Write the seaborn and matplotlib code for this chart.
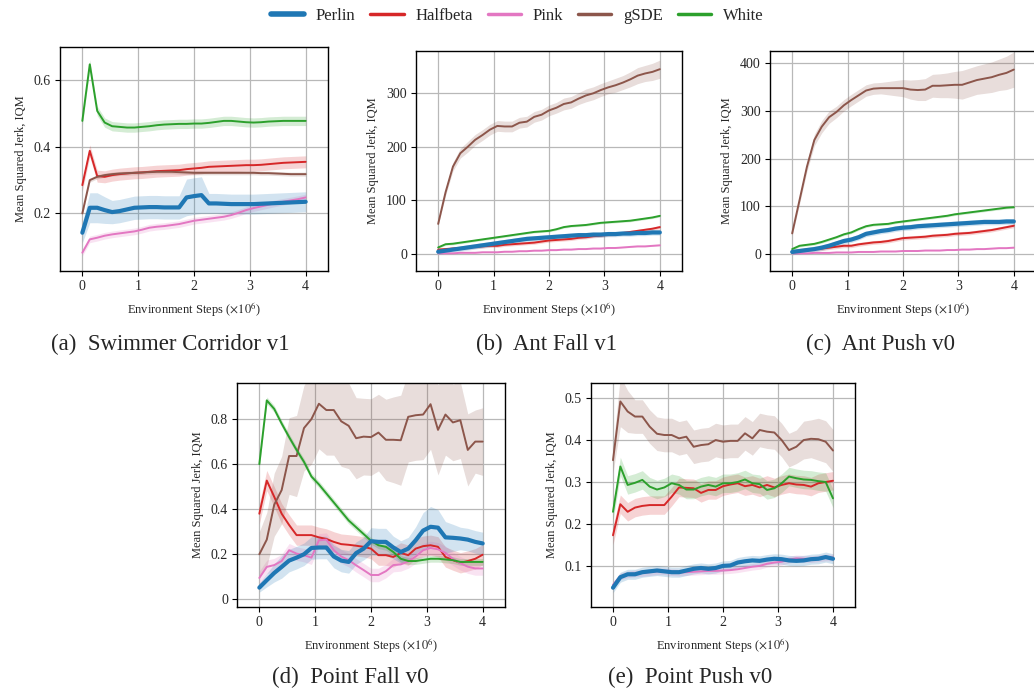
import numpy as np
import pandas as pd
import matplotlib
matplotlib.use("Agg")
import matplotlib.pyplot as plt
from matplotlib.ticker import FuncFormatter
from matplotlib.lines import Line2D
import seaborn as sns

# ---------------------------------------------------------------- data
steps = np.linspace(0, 4, 31)  # environment steps (x 1e6)

methods = ["Perlin", "Halfbeta", "Pink", "gSDE", "White"]
colors = {"Perlin": "#1f77b4", "Halfbeta": "#d62728", "Pink": "#e377c2",
          "gSDE": "#8c564b", "White": "#2ca02c"}

# Swimmer Corridor v1
swim_perlin = [0.142, 0.217, 0.217, 0.210, 0.204, 0.207, 0.212, 0.217, 0.218, 0.219, 0.219,
               0.218, 0.218, 0.218, 0.248, 0.252, 0.255, 0.230, 0.230, 0.229, 0.228, 0.228,
               0.228, 0.228, 0.229, 0.230, 0.231, 0.232, 0.233, 0.234, 0.235]
swim_halfbeta = [0.285, 0.388, 0.312, 0.310, 0.315, 0.318, 0.320, 0.322, 0.323, 0.325, 0.327,
                 0.328, 0.329, 0.330, 0.333, 0.335, 0.337, 0.340, 0.341, 0.342, 0.343, 0.344,
                 0.345, 0.345, 0.346, 0.348, 0.350, 0.352, 0.353, 0.354, 0.355]
swim_pink = [0.082, 0.122, 0.127, 0.133, 0.137, 0.140, 0.143, 0.146, 0.151, 0.157, 0.160,
             0.162, 0.165, 0.168, 0.173, 0.178, 0.181, 0.184, 0.187, 0.190, 0.195, 0.202,
             0.210, 0.216, 0.221, 0.226, 0.231, 0.235, 0.239, 0.243, 0.248]
swim_gsde = [0.200, 0.300, 0.310, 0.315, 0.318, 0.320, 0.321, 0.322, 0.323, 0.324, 0.325,
             0.325, 0.325, 0.324, 0.323, 0.322, 0.322, 0.322, 0.322, 0.322, 0.322, 0.322,
             0.322, 0.322, 0.321, 0.321, 0.320, 0.319, 0.318, 0.318, 0.318]
swim_white = [0.478, 0.648, 0.508, 0.473, 0.462, 0.460, 0.458, 0.458, 0.460, 0.462, 0.465,
              0.467, 0.468, 0.469, 0.469, 0.470, 0.470, 0.472, 0.475, 0.478, 0.478, 0.476,
              0.474, 0.473, 0.474, 0.476, 0.477, 0.478, 0.478, 0.478, 0.478]
swim_perlin_ci = [0.03, 0.045, 0.045, 0.04, 0.035, 0.035, 0.035, 0.035, 0.035, 0.035, 0.035,
                  0.035, 0.035, 0.035, 0.055, 0.055, 0.055, 0.03, 0.03, 0.03, 0.03, 0.03,
                  0.03, 0.03, 0.03, 0.03, 0.03, 0.03, 0.03, 0.03, 0.03]

# Ant Fall v1
fall_perlin = [4, 6, 8, 10, 12, 14, 16, 18, 20, 22, 24, 26, 28, 29, 30, 31, 32, 33, 34, 35,
               35, 36, 36, 37, 37, 38, 38, 39, 39, 40, 40]
fall_halfbeta = [8, 9, 10, 11, 12, 13, 14, 15, 15, 17, 18, 19, 20, 21, 23, 25, 26, 27, 28, 30,
                 31, 33, 34, 36, 37, 39, 41, 43, 45, 47, 50]
fall_pink = [1, 1, 1, 2, 2, 2, 3, 3, 3, 4, 4, 5, 5, 6, 6, 7, 7, 8, 8, 9, 9, 10, 10, 11, 11,
             12, 13, 14, 14, 15, 16]
fall_gsde = [56, 115, 163, 188, 200, 213, 222, 232, 239, 238, 238, 245, 247, 256, 260, 268,
             273, 280, 283, 290, 296, 300, 306, 311, 315, 320, 326, 333, 337, 340, 345]
fall_white = [12, 18, 19, 21, 23, 25, 27, 29, 31, 33, 35, 37, 39, 41, 42, 43, 46, 50, 52, 53,
              54, 56, 58, 59, 60, 61, 62, 64, 66, 68, 71]
fall_gsde_ci = [3, 6, 8, 9, 10, 10, 10, 10, 10, 10, 10, 10, 10, 10, 10, 10, 10, 11, 11, 11,
                12, 12, 12, 12, 13, 13, 14, 15, 15, 16, 17]

# Ant Push v0
push_perlin = [4, 6, 8, 10, 13, 17, 22, 27, 30, 35, 42, 45, 48, 50, 53, 55, 56, 58, 59, 60,
               61, 62, 63, 64, 65, 66, 67, 67, 67, 68, 68]
push_halfbeta = [5, 7, 9, 10, 11, 13, 15, 17, 17, 20, 22, 24, 25, 27, 30, 33, 34, 35, 36, 38,
                 39, 40, 42, 43, 44, 46, 48, 50, 53, 56, 59]
push_pink = [1, 1, 1, 2, 2, 2, 3, 3, 3, 4, 4, 4, 5, 5, 5, 6, 6, 6, 7, 7, 7, 8, 8, 9, 9, 10,
             10, 11, 12, 12, 13]
push_gsde = [43, 113, 183, 239, 267, 287, 298, 312, 323, 333, 343, 347, 348, 348, 348, 348,
             345, 344, 345, 353, 353, 354, 355, 355, 360, 365, 368, 371, 376, 380, 387]
push_white = [10, 17, 19, 21, 25, 30, 35, 41, 45, 52, 58, 61, 62, 63, 66, 68, 70, 72, 74, 76,
              78, 80, 83, 85, 87, 89, 91, 93, 95, 97, 98]
push_gsde_ci = [5, 8, 10, 12, 13, 13, 12, 12, 12, 12, 12, 12, 12, 14, 16, 18, 20, 22, 23, 24,
                25, 26, 28, 30, 30, 30, 31, 32, 33, 35, 37]

# Point Fall v0
pfall_perlin = [0.052, 0.085, 0.117, 0.144, 0.172, 0.185, 0.200, 0.228, 0.230, 0.230, 0.190,
                0.172, 0.166, 0.205, 0.225, 0.258, 0.255, 0.255, 0.230, 0.210, 0.225, 0.262,
                0.305, 0.322, 0.318, 0.275, 0.273, 0.270, 0.265, 0.255, 0.248]
pfall_halfbeta = [0.380, 0.527, 0.455, 0.380, 0.330, 0.285, 0.285, 0.285, 0.275, 0.268, 0.255,
                  0.245, 0.242, 0.238, 0.233, 0.225, 0.196, 0.196, 0.188, 0.206, 0.196, 0.225,
                  0.236, 0.240, 0.233, 0.188, 0.174, 0.162, 0.170, 0.180, 0.198]
pfall_pink = [0.095, 0.144, 0.152, 0.170, 0.218, 0.203, 0.196, 0.185, 0.262, 0.265, 0.218,
              0.190, 0.174, 0.151, 0.130, 0.108, 0.108, 0.125, 0.152, 0.155, 0.168, 0.190,
              0.218, 0.228, 0.222, 0.206, 0.180, 0.160, 0.145, 0.137, 0.137]
pfall_gsde = [0.200, 0.265, 0.420, 0.485, 0.636, 0.636, 0.760, 0.800, 0.868, 0.840, 0.840,
              0.790, 0.770, 0.715, 0.722, 0.720, 0.740, 0.708, 0.708, 0.706, 0.810, 0.817,
              0.820, 0.866, 0.752, 0.820, 0.785, 0.795, 0.663, 0.700, 0.700]
pfall_white = [0.600, 0.883, 0.845, 0.780, 0.720, 0.663, 0.610, 0.545, 0.510, 0.470, 0.430,
               0.390, 0.350, 0.320, 0.290, 0.260, 0.240, 0.233, 0.210, 0.180, 0.170, 0.170,
               0.175, 0.180, 0.180, 0.177, 0.174, 0.166, 0.166, 0.166, 0.166]
pfall_gsde_ci = [0.10, 0.12, 0.14, 0.15, 0.17, 0.18, 0.19, 0.20, 0.20, 0.20, 0.20, 0.20, 0.19,
                 0.18, 0.17, 0.17, 0.17, 0.18, 0.19, 0.20, 0.20, 0.20, 0.20, 0.20, 0.20, 0.18,
                 0.17, 0.17, 0.16, 0.14, 0.15]
pfall_perlin_ci = [0.02, 0.03, 0.04, 0.05, 0.05, 0.05, 0.05, 0.05, 0.05, 0.05, 0.05, 0.05,
                   0.05, 0.05, 0.05, 0.06, 0.06, 0.06, 0.05, 0.05, 0.05, 0.06, 0.08, 0.09,
                   0.08, 0.07, 0.06, 0.05, 0.05, 0.05, 0.05]

# Point Push v0
ppush_perlin = [0.048, 0.073, 0.080, 0.080, 0.085, 0.087, 0.089, 0.087, 0.085, 0.085, 0.089,
                0.093, 0.095, 0.093, 0.095, 0.100, 0.101, 0.108, 0.111, 0.113, 0.112, 0.115,
                0.117, 0.116, 0.113, 0.112, 0.113, 0.116, 0.117, 0.121, 0.117]
ppush_halfbeta = [0.173, 0.247, 0.229, 0.239, 0.243, 0.245, 0.245, 0.245, 0.265, 0.287, 0.286,
                  0.285, 0.274, 0.281, 0.281, 0.290, 0.294, 0.297, 0.290, 0.293, 0.287, 0.293,
                  0.287, 0.293, 0.297, 0.294, 0.293, 0.289, 0.297, 0.300, 0.303]
ppush_pink = [0.055, 0.075, 0.080, 0.082, 0.083, 0.085, 0.087, 0.087, 0.085, 0.084, 0.085,
              0.086, 0.087, 0.088, 0.088, 0.089, 0.090, 0.092, 0.095, 0.098, 0.100, 0.105,
              0.108, 0.110, 0.115, 0.118, 0.117, 0.116, 0.118, 0.120, 0.120]
ppush_gsde = [0.352, 0.492, 0.468, 0.456, 0.456, 0.432, 0.415, 0.412, 0.412, 0.404, 0.408,
              0.384, 0.388, 0.390, 0.400, 0.396, 0.398, 0.398, 0.416, 0.404, 0.424, 0.420,
              0.418, 0.400, 0.376, 0.384, 0.400, 0.403, 0.402, 0.396, 0.375]
ppush_white = [0.229, 0.337, 0.293, 0.298, 0.305, 0.289, 0.282, 0.287, 0.297, 0.293, 0.282,
               0.282, 0.289, 0.293, 0.289, 0.297, 0.297, 0.300, 0.306, 0.297, 0.295, 0.281,
               0.285, 0.297, 0.313, 0.309, 0.306, 0.305, 0.302, 0.300, 0.261]
ppush_gsde_ci = [0.03, 0.06, 0.05, 0.04, 0.04, 0.04, 0.04, 0.04, 0.04, 0.04, 0.04, 0.04,
                 0.04, 0.04, 0.04, 0.04, 0.04, 0.04, 0.04, 0.04, 0.04, 0.04, 0.04, 0.04,
                 0.04, 0.04, 0.045, 0.045, 0.05, 0.05, 0.05]

panels = [
    {"caption": "(a)  Swimmer Corridor v1",
     "mean": {"Perlin": swim_perlin, "Halfbeta": swim_halfbeta, "Pink": swim_pink,
              "gSDE": swim_gsde, "White": swim_white},
     "ci": {"Perlin": swim_perlin_ci, "Halfbeta": 0.018, "Pink": 0.01,
            "gSDE": 0.006, "White": 0.014},
     "yticks": [0.2, 0.4, 0.6], "ylim": (0.027, 0.70)},
    {"caption": "(b)  Ant Fall v1",
     "mean": {"Perlin": fall_perlin, "Halfbeta": fall_halfbeta, "Pink": fall_pink,
              "gSDE": fall_gsde, "White": fall_white},
     "ci": {"Perlin": 5, "Halfbeta": 3, "Pink": 1, "gSDE": fall_gsde_ci, "White": 2},
     "yticks": [0, 100, 200, 300], "ylim": (-32, 379)},
    {"caption": "(c)  Ant Push v0",
     "mean": {"Perlin": push_perlin, "Halfbeta": push_halfbeta, "Pink": push_pink,
              "gSDE": push_gsde, "White": push_white},
     "ci": {"Perlin": 6, "Halfbeta": 4, "Pink": 1, "gSDE": push_gsde_ci, "White": 2.5},
     "yticks": [0, 100, 200, 300, 400], "ylim": (-36, 426)},
    {"caption": "(d)  Point Fall v0",
     "mean": {"Perlin": pfall_perlin, "Halfbeta": pfall_halfbeta, "Pink": pfall_pink,
              "gSDE": pfall_gsde, "White": pfall_white},
     "ci": {"Perlin": pfall_perlin_ci, "Halfbeta": 0.045, "Pink": 0.03,
            "gSDE": pfall_gsde_ci, "White": 0.015},
     "yticks": [0, 0.2, 0.4, 0.6, 0.8], "ylim": (-0.034, 0.96)},
    {"caption": "(e)  Point Push v0",
     "mean": {"Perlin": ppush_perlin, "Halfbeta": ppush_halfbeta, "Pink": ppush_pink,
              "gSDE": ppush_gsde, "White": ppush_white},
     "ci": {"Perlin": 0.012, "Halfbeta": 0.022, "Pink": 0.008,
            "gSDE": ppush_gsde_ci, "White": 0.022},
     "yticks": [0.1, 0.2, 0.3, 0.4, 0.5], "ylim": (0.002, 0.536)},
]

# axes boxes in pixels: left, right, top, bottom ; caption centre x, y
W, H = 1034, 692
boxes = [(60, 328, 47, 271), (416, 682, 51, 271), (770, 1036, 51, 271),
         (237, 505, 383, 607), (591, 855, 383, 607)]
captions_xy = [(170, 344), (546, 344), (880, 344), (350, 677), (690, 677)]

# ---------------------------------------------------------------- style
sns.set_theme(style="ticks")
plt.rcParams["font.family"] = ["Liberation Serif", "DejaVu Serif"]
plt.rcParams["mathtext.fontset"] = "stix"
plt.rcParams["axes.edgecolor"] = "black"
plt.rcParams["axes.linewidth"] = 1.0

fig = plt.figure(figsize=(W / 100, H / 100), dpi=100)

draw_order = ["Halfbeta", "Pink", "gSDE", "White", "Perlin"]
fmt = FuncFormatter(lambda v, _: f"{v:g}")

for panel, (l, r, t, b), (cx, cy) in zip(panels, boxes, captions_xy):
    ax = fig.add_axes([l / W, 1 - b / H, (r - l) / W, (b - t) / H])
    for name in draw_order:
        mean = np.asarray(panel["mean"][name], dtype=float)
        ci = np.broadcast_to(np.asarray(panel["ci"][name], dtype=float), mean.shape)
        df = pd.DataFrame({"step": steps, "value": mean})
        lw = 3.0 if name == "Perlin" else 1.4
        ax.fill_between(steps, mean - ci, mean + ci, color=colors[name],
                        alpha=0.2, linewidth=0, zorder=2)
        sns.lineplot(data=df, x="step", y="value", ax=ax, color=colors[name],
                     linewidth=lw, zorder=4 if name == "Perlin" else 3)
    ax.set_xlim(-0.4, 4.4)
    ax.set_ylim(*panel["ylim"])
    ax.set_xticks([0, 1, 2, 3, 4])
    ax.set_yticks(panel["yticks"])
    ax.yaxis.set_major_formatter(fmt)
    ax.grid(True, color="#b8b8b8", linewidth=0.9, zorder=0)
    ax.set_axisbelow(True)
    ax.tick_params(labelsize=10, length=3.5, width=0.8, color="black", pad=3)
    ax.set_xlabel(r"Environment Steps ($\times 10^6$)", fontsize=9, labelpad=5)
    ax.set_ylabel("Mean Squared Jerk, IQM", fontsize=9, labelpad=5)
    for s in ax.spines.values():
        s.set_visible(True)
        s.set_color("black")
    fig.text(cx / W, 1 - cy / H, panel["caption"], ha="center", va="center",
             fontsize=16.5)

handles = [Line2D([0], [0], color=colors[m], linewidth=4.0 if m == "Perlin" else 2.5)
           for m in methods]
fig.legend(handles, methods, loc="center", bbox_to_anchor=(0.5, 1 - 16 / H), ncol=5,
           frameon=False, fontsize=12, handlelength=2.0, columnspacing=0.9,
           handletextpad=0.7)

fig.savefig("out.png", dpi=100)
